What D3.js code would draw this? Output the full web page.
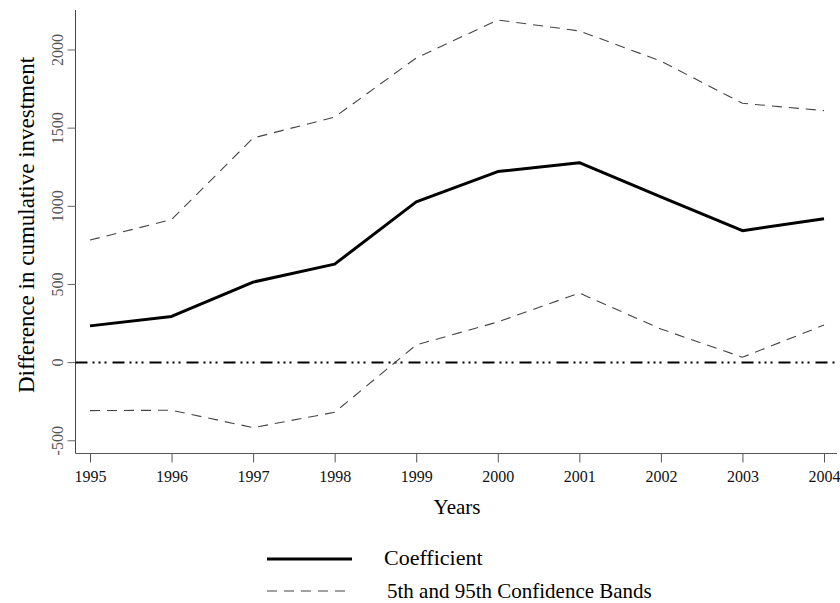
<!DOCTYPE html>
<html>
<head>
<meta charset="utf-8">
<script src="https://cdn.jsdelivr.net/npm/d3@7"></script>
<style>
  html, body { margin: 0; padding: 0; background: #fff; }
  svg { display: block; }
  text { font-family: "Liberation Serif", "Times New Roman", serif; }
</style>
</head>
<body>
<svg id="chart" width="840" height="603"></svg>
<script>
// Cumulative investment difference by year, with 5th/95th confidence bands
const years = [1995, 1996, 1997, 1998, 1999, 2000, 2001, 2002, 2003, 2004];
const coefficient = [235, 295, 515, 630, 1028, 1222, 1279, 1060, 844, 921];
const upperBand = [784, 915, 1437, 1571, 1949, 2192, 2122, 1929, 1659, 1612];
const lowerBand = [-307, -305, -416, -318, 113, 260, 445, 215, 34, 240];
const yTicks = [-500, 0, 500, 1000, 1500, 2000];

const svg = d3.select("#chart");

const x = d3.scaleLinear().domain([1995, 2004]).range([90, 824]);
const y = d3.scaleLinear().domain([0, 2000]).range([362.6, 50]);

const plotLeft = 75.5, plotBottom = 453.5, plotTop = 10, plotRight = 837;

// Axes
const xAxis = d3.axisBottom(x).tickValues(years).tickFormat(d3.format("d")).tickSize(9).tickSizeOuter(0);
const gx = svg.append("g").attr("transform", `translate(0,${plotBottom})`).call(xAxis);
gx.select(".domain").attr("d", `M${plotLeft},0H${plotRight}`);
gx.selectAll("line").attr("stroke", "#555");
gx.select(".domain").attr("stroke", "#555");
gx.selectAll("text").attr("font-size", 16).attr("fill", "#111").attr("dy", "1.05em");

const yAxis = d3.axisLeft(y).tickValues(yTicks).tickFormat(d => String(d)).tickSize(8).tickSizeOuter(0);
const gy = svg.append("g").attr("transform", `translate(${plotLeft},0)`).call(yAxis);
gy.select(".domain").attr("d", `M0,${plotTop}V${plotBottom}`).attr("stroke", "#444");
gy.selectAll("line").attr("stroke", "#666");
gy.selectAll("text")
  .attr("font-size", 16)
  .attr("fill", "#555")
  .attr("text-anchor", "middle")
  .attr("x", 0).attr("dy", 0)
  .attr("transform", d => `translate(-13,${y(d)}) rotate(-90)`)
  .attr("y", 0);
gy.selectAll(".tick").attr("transform", null);
gy.selectAll(".tick line").attr("transform", d => `translate(0,${y(d)})`);

// Zero reference line (dash-dot-dot)
svg.append("line")
  .attr("x1", plotLeft).attr("x2", plotRight)
  .attr("y1", y(0)).attr("y2", y(0))
  .attr("stroke", "#000").attr("stroke-width", 2)
  .attr("stroke-dasharray", "12,5,2,4,2,4,2,6");

const line = d3.line().x((d, i) => x(years[i])).y(d => y(d));

// Confidence bands
[upperBand, lowerBand].forEach(band => {
  svg.append("path")
    .datum(band)
    .attr("d", line)
    .attr("fill", "none")
    .attr("stroke", "#444")
    .attr("stroke-width", 1.1)
    .attr("stroke-dasharray", "10,7");
});

// Coefficient
svg.append("path")
  .datum(coefficient)
  .attr("d", line)
  .attr("fill", "none")
  .attr("stroke", "#000")
  .attr("stroke-width", 3)
  .attr("stroke-linejoin", "round");

// Axis titles
svg.append("text")
  .attr("transform", "translate(34,225) rotate(-90)")
  .attr("text-anchor", "middle")
  .attr("font-size", 23)
  .attr("fill", "#000")
  .text("Difference in cumulative investment");

svg.append("text")
  .attr("x", 457).attr("y", 514)
  .attr("text-anchor", "middle")
  .attr("font-size", 21)
  .attr("fill", "#000")
  .text("Years");

// Legend
const legend = svg.append("g");
legend.append("line")
  .attr("x1", 267).attr("x2", 352).attr("y1", 559).attr("y2", 559)
  .attr("stroke", "#000").attr("stroke-width", 3);
legend.append("text")
  .attr("x", 384).attr("y", 565).attr("font-size", 22).attr("fill", "#000")
  .text("Coefficient");
legend.append("line")
  .attr("x1", 267).attr("x2", 352).attr("y1", 591).attr("y2", 591)
  .attr("stroke", "#444").attr("stroke-width", 1.1).attr("stroke-dasharray", "10,7");
legend.append("text")
  .attr("x", 387).attr("y", 598).attr("font-size", 21).attr("fill", "#000")
  .text("5th and 95th Confidence Bands");
</script>
</body>
</html>
